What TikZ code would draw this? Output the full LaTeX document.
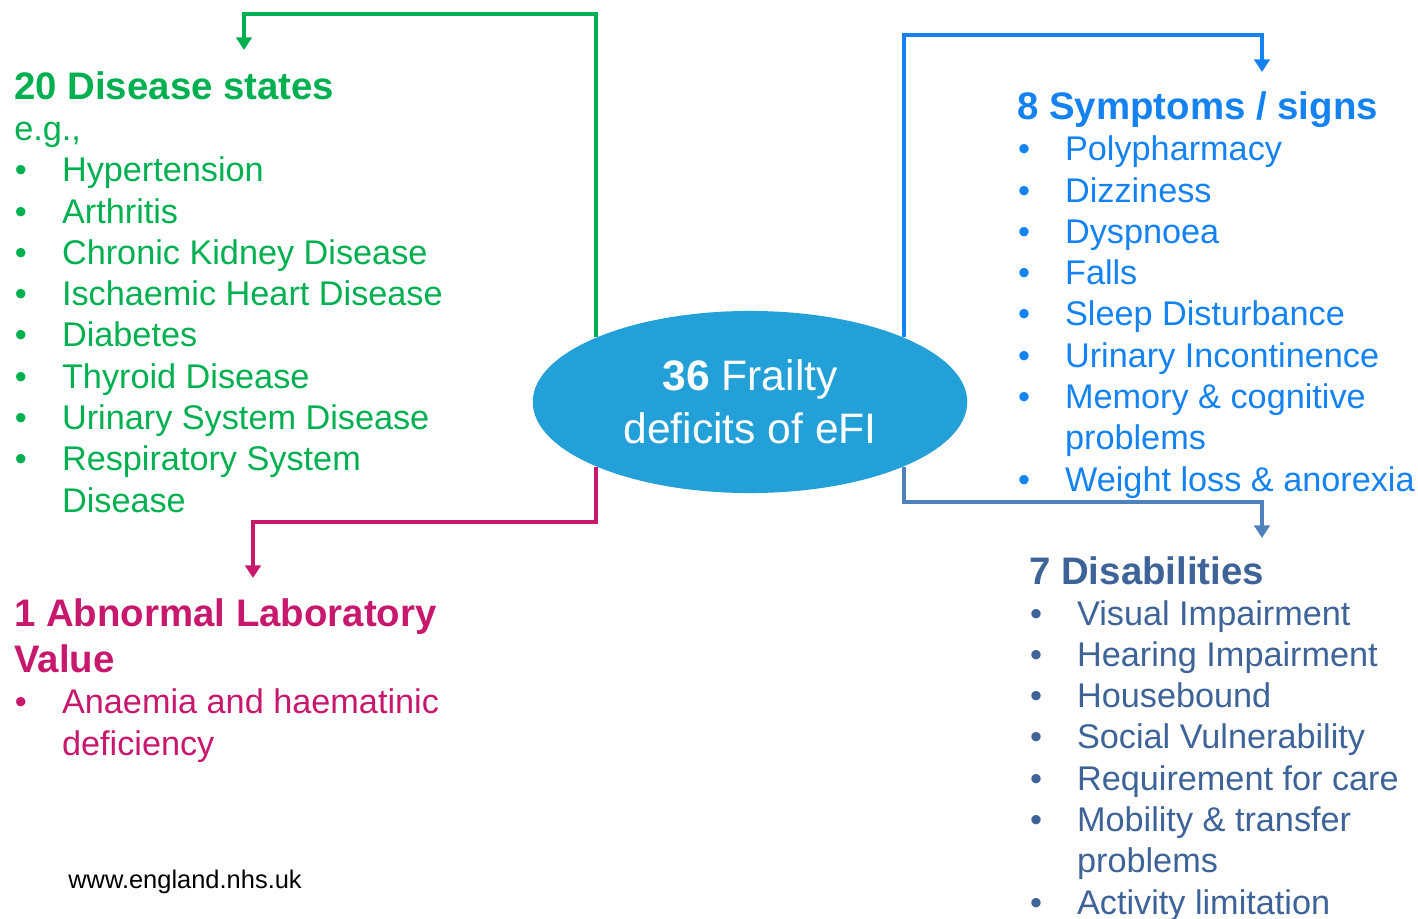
\documentclass[tikz,border=0pt]{standalone}
\usepackage{fontspec}
\setmainfont{Liberation Sans}
\usepackage{xcolor}
\usepackage{tikz}
\usetikzlibrary{shapes.geometric, arrows.meta, positioning, calc}
\definecolor{nhsgreen}{RGB}{0,176,80}
\definecolor{symblue}{RGB}{20,130,240}
\definecolor{labpink}{RGB}{200,24,110}
\definecolor{disblue}{RGB}{61,99,153}
\definecolor{disline}{RGB}{79,129,189}
\definecolor{efiblue}{RGB}{35,160,216}
\tikzset{
  heading/.style={anchor=base west, inner sep=0pt, align=left, font=\fontsize{27.3}{32.7}\selectfont\bfseries},
  itemlist/.style={anchor=base west, inner sep=0pt, align=left, font=\fontsize{24.35}{29.35}\selectfont},
  deficit/.style={ellipse, fill=efiblue, minimum width=309pt, minimum height=129.5pt, inner sep=0pt, text=white, align=center, font=\fontsize{30.3}{37.7}\selectfont},
  conn/.style={line width=2.6pt, -{Triangle[length=9pt,width=11pt]}}
}
\newcommand{\bul}{\makebox[34pt][l]{\hspace{0.5pt}\textbullet}}
\newcommand{\ind}{\hspace*{34pt}}

\begin{document}
\begin{tikzpicture}[x=0.025cm, y=-0.025cm]
\useasboundingbox (0,0) rectangle (1418,919);

% Centre ellipse
\node (efi) [deficit] at (750,402) {\textbf{36} Frailty\\deficits of eFI};

% Arrow tips
\coordinate (dtip) at (244,50);
\coordinate (stip) at (1262,72);
\coordinate (ltip) at (253,578);
\coordinate (btip) at (1262,538);

% Connectors
\draw [conn, nhsgreen] (efi.north west) |- ($(dtip)+(0,-36)$) -- (dtip);
\draw [conn, symblue] (efi.north east) |- ($(stip)+(0,-37)$) -- (stip);
\draw [conn, labpink] (efi.south west) |- ($(ltip)+(0,-56)$) -- (ltip);
\draw [conn, disline] (efi.south east) |- ($(btip)+(0,-36)$) -- (btip);

% Disease states (lists sit on the baseline of their last line)
\node (dishead) [heading, text=nhsgreen] at (14,100) {20 Disease states};
\node (dislist) [itemlist, text=nhsgreen] at (14,512) {e.g.,\\
\bul Hypertension\\
\bul Arthritis\\
\bul Chronic Kidney Disease\\
\bul Ischaemic Heart Disease\\
\bul Diabetes\\
\bul Thyroid Disease\\
\bul Urinary System Disease\\
\bul Respiratory System\\
\ind Disease};

% Laboratory value
\node (labhead) [heading, text=labpink] at (14,672) {1 Abnormal Laboratory\\Value};
\node (lablist) [itemlist, text=labpink] at (14,755) {\bul Anaemia and haematinic\\
\ind deficiency};

% Symptoms / signs
\node (symhead) [heading, text=symblue] at (1017,120) {8 Symptoms / signs};
\node (symlist) [itemlist, text=symblue] at (1017,491) {\bul Polypharmacy\\
\bul Dizziness\\
\bul Dyspnoea\\
\bul Falls\\
\bul Sleep Disturbance\\
\bul Urinary Incontinence\\
\bul Memory \& cognitive\\
\ind problems\\
\bul Weight loss \& anorexia};

% Disabilities
\node (dhead) [heading, text=disblue] at (1029,584) {7 Disabilities};
\node (dlist) [itemlist, text=disblue] at (1029,914) {\bul Visual Impairment\\
\bul Hearing Impairment\\
\bul Housebound\\
\bul Social Vulnerability\\
\bul Requirement for care\\
\bul Mobility \& transfer\\
\ind problems\\
\bul Activity limitation};

% Footer
\node (web) [anchor=base west, inner sep=0pt, font=\fontsize{18.1}{20}\selectfont] at (68,888) {www.england.nhs.uk};

\end{tikzpicture}
\end{document}
